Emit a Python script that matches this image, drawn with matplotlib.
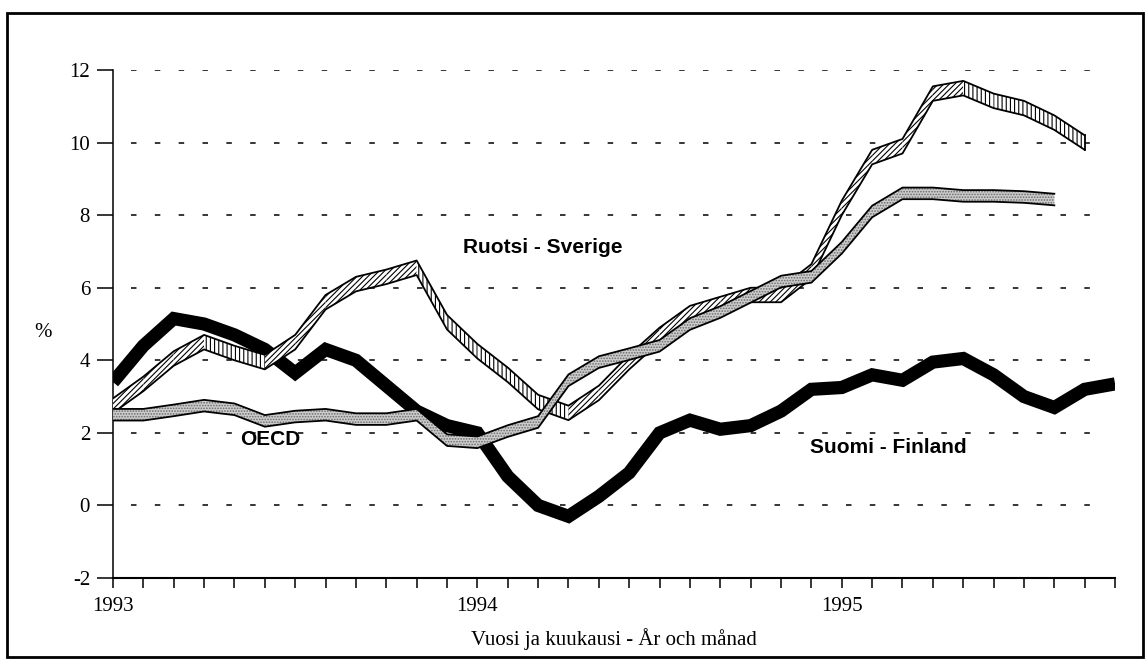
import numpy as np
import matplotlib
matplotlib.use('Agg')
import matplotlib.pyplot as plt
from matplotlib.patches import Rectangle

# kuukaudet alkaen 1993-01 (0 = tammikuu 1993)
suomi = [3.4, 4.4, 5.15, 5.0, 4.7, 4.3, 3.65, 4.3, 4.0, 3.3, 2.6, 2.2,
         2.0, 0.8, 0.0, -0.3, 0.25, 0.9, 2.0, 2.35, 2.1, 2.2, 2.6, 3.2,
         3.25, 3.6, 3.45, 3.95, 4.05, 3.6, 3.0, 2.7, 3.2, 3.35]
ruotsi = [2.75, 3.35, 4.05, 4.5, 4.2, 3.95, 4.5, 5.6, 6.1, 6.3, 6.55, 5.05,
          4.25, 3.6, 2.85, 2.55, 3.1, 3.95, 4.7, 5.3, 5.55, 5.8, 5.8, 6.45,
          8.2, 9.6, 9.9, 11.35, 11.5, 11.15, 10.95, 10.55, 10.0]
oecd = [2.5, 2.5, 2.62, 2.75, 2.65, 2.33, 2.45, 2.5, 2.38, 2.38, 2.5, 1.8,
        1.74, 2.05, 2.3, 3.45, 3.95, 4.17, 4.4, 5.0, 5.33, 5.75, 6.17, 6.3,
        7.1, 8.1, 8.6, 8.6, 8.53, 8.53, 8.5, 8.43]
vuodet = ['1993', '1994', '1995']
y_ticks = [-2, 0, 2, 4, 6, 8, 10, 12]

plt.rcParams['hatch.linewidth'] = 0.8

fig = plt.figure(figsize=(11.46, 6.68), dpi=100)
ax = fig.add_axes([0.0986, 0.1347, 0.8744, 0.7605])

# ulkokehys
fig.patches.append(Rectangle((0.006, 0.0165), 0.9914, 0.964, transform=fig.transFigure,
                             fill=False, edgecolor='black', linewidth=2))

# katkoviivaruudukko
for y in y_ticks[1:]:
    ax.hlines(y, 0.6, 32.7, colors='black', linewidth=1.1,
              linestyles=(0, (3.6, 12)), zorder=1)

# Suomi: paksu musta viiva
x_fi = np.arange(len(suomi))
ax.plot(x_fi, suomi, color='black', linewidth=9.5, solid_capstyle='butt',
        solid_joinstyle='miter', zorder=2)

# Ruotsi: viivoitettu nauha
x_se = np.arange(len(ruotsi))
se = np.array(ruotsi)
h_se = 0.2
for i in range(len(se) - 1):
    kuvio = '||||' if se[i + 1] < se[i] else '//////'
    ax.fill_between(x_se[i:i + 2], se[i:i + 2] - h_se, se[i:i + 2] + h_se,
                    facecolor='white', edgecolor='black', hatch=kuvio,
                    linewidth=0, zorder=3)
ax.plot(x_se, se - h_se, color='black', linewidth=1.3, zorder=3.1)
ax.plot(x_se, se + h_se, color='black', linewidth=1.3, zorder=3.1)
ax.plot([x_se[-1], x_se[-1]], [se[-1] - h_se, se[-1] + h_se], color='black',
        linewidth=1.3, zorder=3.1)

# OECD: pisteytetty harmaa nauha
x_oe = np.arange(len(oecd))
oe = np.array(oecd)
h_oe = 0.16
ax.fill_between(x_oe, oe - h_oe, oe + h_oe, facecolor='#cccccc', edgecolor='#6a6a6a',
                hatch='......', linewidth=0, zorder=4)
ax.plot(x_oe, oe - h_oe, color='black', linewidth=1.3, zorder=4.1)
ax.plot(x_oe, oe + h_oe, color='black', linewidth=1.3, zorder=4.1)

# sarjojen nimet
teksti = dict(fontsize=15, fontweight='bold', family='Liberation Sans', va='center', zorder=5)
ax.text(11.53, 7.12, 'Ruotsi - Sverige', **teksti)
ax.text(4.18, 1.82, 'OECD', **teksti)
ax.text(22.97, 1.61, 'Suomi - Finland', **teksti)

ax.set_xlim(0, 33)
ax.set_ylim(-2, 12)
for s in ['top', 'right']:
    ax.spines[s].set_visible(False)
ax.spines['left'].set_linewidth(1.1)
ax.spines['bottom'].set_linewidth(1.5)

ax.set_xticks(np.arange(0, 34), minor=True)
ax.set_xticks([0, 12, 24])
ax.set_xticklabels(vuodet, family='Liberation Serif', fontsize=15)
ax.tick_params(axis='x', which='both', direction='out', length=7, width=1.1, pad=7)
ax.set_yticks(y_ticks)
ax.set_yticklabels([str(v) for v in y_ticks], family='Liberation Serif', fontsize=15)
ax.tick_params(axis='y', direction='out', length=11.5, width=1.1, pad=5)

fig.text(0.0375, 0.5015, '%', family='Liberation Serif', fontsize=15, ha='center', va='center')
fig.text(0.5358, 0.0434, 'Vuosi ja kuukausi - År och månad', family='Liberation Serif',
         fontsize=15, ha='center', va='center')

fig.savefig('out.png', dpi=100)
